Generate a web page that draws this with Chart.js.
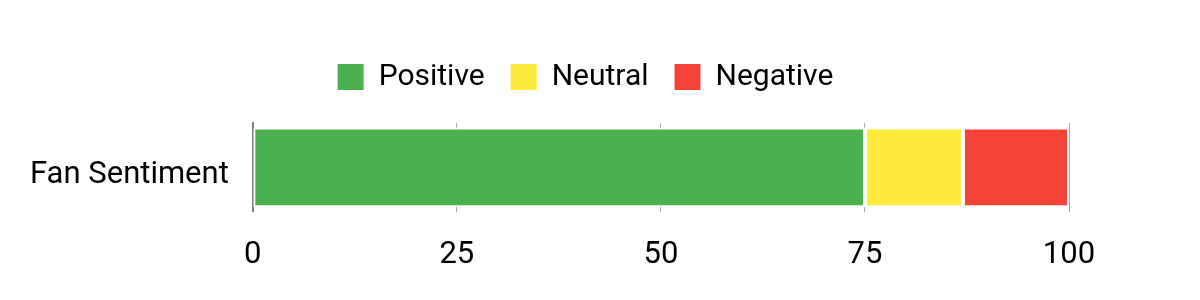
<!DOCTYPE html>
<html>
<head>
<meta charset="utf-8">
<script src="https://cdn.jsdelivr.net/npm/chart.js@4/dist/chart.umd.min.js"></script>
<style>
  html, body { margin: 0; padding: 0; background: #fff; }
  #wrap { width: 1200px; height: 300px; }
</style>
</head>
<body>
<div id="wrap"><canvas id="chart"></canvas></div>
<script>
// data
const categories = ['Fan Sentiment'];
const seriesNames = ['Positive', 'Neutral', 'Negative'];
const positive = [75];
const neutral = [12];
const negative = [13];
const xTicks = [0, 25, 50, 75, 100];

const colors = ['#4caf50', '#ffeb3b', '#f44336'];
const values = [positive, neutral, negative];

// extra space under the legend, and shift it to the right a bit
const legendTweak = {
  id: 'legendTweak',
  beforeInit(chart) {
    const fit = chart.legend.fit;
    chart.legend.fit = function () {
      fit.bind(chart.legend)();
      this.height += 21;
    };
  },
  afterLayout(chart) {
    chart.legend.left += 48;
    chart.legend.right += 48;
  }
};

const ctx = document.getElementById('chart').getContext('2d');
new Chart(ctx, {
  type: 'bar',
  data: {
    labels: categories,
    datasets: seriesNames.map((name, i) => ({
      label: name,
      data: values[i],
      backgroundColor: colors[i],
      borderColor: '#ffffff',
      borderWidth: 2,
      borderSkipped: false,
      barPercentage: 0.9,
      categoryPercentage: 1.0
    }))
  },
  plugins: [legendTweak],
  options: {
    indexAxis: 'y',
    responsive: true,
    maintainAspectRatio: false,
    animation: false,
    layout: { padding: { top: 36, right: 131, left: 6, bottom: 1 } },
    plugins: {
      legend: {
        position: 'top',
        labels: {
          color: '#000',
          font: { family: 'Roboto', size: 30 },
          boxWidth: 26,
          boxHeight: 26,
          padding: 26,
          generateLabels: chart =>
            Chart.defaults.plugins.legend.labels.generateLabels(chart)
              .map(l => Object.assign(l, { lineWidth: 0 }))
        }
      },
      tooltip: { enabled: false }
    },
    scales: {
      x: {
        stacked: true,
        min: 0,
        max: 100,
        afterBuildTicks: axis => { axis.ticks = xTicks.map(v => ({ value: v })); },
        grid: { color: '#aaaaaa', drawTicks: false },
        border: { display: false },
        ticks: { color: '#000', font: { family: 'Roboto', size: 31 }, padding: 25 }
      },
      y: {
        stacked: true,
        grid: { display: false, drawTicks: false },
        border: { display: true, color: '#808080', width: 2 },
        ticks: { color: '#000', font: { family: 'Roboto', size: 31 }, padding: 24, labelOffset: 8 }
      }
    }
  }
});
</script>
</body>
</html>
